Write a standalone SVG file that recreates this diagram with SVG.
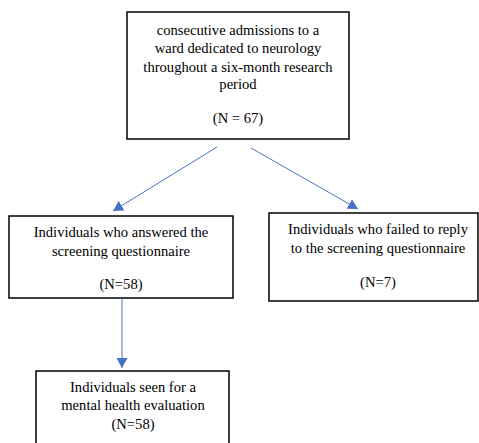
<svg xmlns="http://www.w3.org/2000/svg" width="479" height="443" viewBox="0 0 479 443">
<style>
.box{fill:#fff;stroke:#000;stroke-width:1.5}
.t{font-family:"Liberation Serif","Times New Roman",serif;font-size:14.6px;fill:#000;text-anchor:middle}
.c{stroke:#4472C4;stroke-width:1;fill:none}
</style>
<defs>
<marker id="ah" markerUnits="userSpaceOnUse" markerWidth="11" markerHeight="11" refX="10" refY="5.5" orient="auto">
<path d="M0,0 L10,5.5 L0,11 z" fill="#4472C4"/>
</marker>
</defs>
<rect width="479" height="443" fill="#fff"/>
<g id="n1">
<rect class="box" x="127" y="12" width="222" height="127"/>
<text class="t" x="238" y="35">consecutive admissions to a</text>
<text class="t" x="238" y="53">ward dedicated to neurology</text>
<text class="t" x="238" y="72">throughout a six-month research</text>
<text class="t" x="238" y="89">period</text>
<text class="t" x="238" y="123">(N = 67)</text>
</g>
<g id="n2">
<rect class="box" x="9" y="216" width="224" height="82"/>
<text class="t" x="121" y="237">Individuals who answered the</text>
<text class="t" x="121" y="256">screening questionnaire</text>
<text class="t" x="121" y="289">(N=58)</text>
</g>
<g id="n3">
<rect class="box" x="269" y="213" width="209" height="88"/>
<text class="t" x="378" y="234">Individuals who failed to reply</text>
<text class="t" x="378" y="253">to the screening questionnaire</text>
<text class="t" x="378" y="287">(N=7)</text>
</g>
<g id="n4">
<rect class="box" x="36" y="371" width="193" height="80"/>
<text class="t" x="133" y="392">Individuals seen for a</text>
<text class="t" x="133" y="410">mental health evaluation</text>
<text class="t" x="133" y="429">(N=58)</text>
</g>
<g id="connectors">
<line class="c" x1="217" y1="147" x2="113" y2="211" marker-end="url(#ah)"/>
<line class="c" x1="251" y1="148" x2="358" y2="209" marker-end="url(#ah)"/>
<line class="c" x1="122" y1="298" x2="122" y2="368" marker-end="url(#ah)"/>
</g>
</svg>
